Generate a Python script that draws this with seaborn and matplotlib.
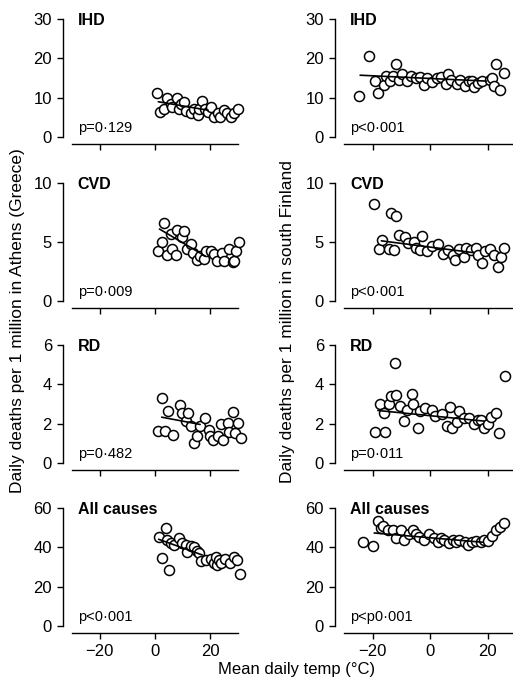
import numpy as np
import pandas as pd
import seaborn as sns
import matplotlib.pyplot as plt

# Athens (Greece) - mean daily temp (C) vs daily deaths per 1 million
ath_ihd_t = [0.6, 1.9, 3.1, 4.3, 5.6, 6.2, 8, 8.7, 9.3, 10.5, 11.1, 13, 14.2, 15.5, 15.8, 16.9, 18, 19.2, 20.4, 21.4, 22.7, 23.5, 24.8, 26, 27.6, 28.5, 30]
ath_ihd_d = [11.25, 6.4, 7.2, 10.0, 8.5, 7.5, 10.0, 7.2, 8.5, 9.0, 6.6, 6.0, 7.2, 5.5, 7.2, 9.1, 7.2, 6.4, 7.7, 5.1, 6.1, 5.1, 6.8, 6.1, 5.1, 6.0, 7.2]
ath_cvd_t = [1.2, 2.5, 3.1, 4.3, 5.7, 6.2, 7.4, 7.8, 9.6, 10.6, 11.4, 13, 13.9, 15.1, 16.4, 17.6, 18.5, 20.1, 21.3, 22.5, 24.1, 25, 26.6, 28.1, 28.7, 29.3, 30.2]
ath_cvd_d = [4.2, 5.0, 6.6, 3.9, 5.7, 4.4, 3.9, 6.0, 5.4, 5.9, 4.4, 4.8, 4.1, 3.5, 3.8, 3.6, 4.2, 4.2, 4.0, 3.4, 4.1, 3.4, 4.4, 3.3, 3.4, 4.2, 5.0]
ath_rd_t = [1.2, 2.7, 3.6, 4.8, 6.6, 9, 9.6, 11.2, 12, 12.9, 14.1, 15.1, 16.3, 18.1, 19.6, 19.9, 21.1, 22.9, 23.7, 24.7, 26.5, 26.9, 28.1, 28.9, 30.1, 31]
ath_rd_d = [1.65, 3.28, 1.65, 2.63, 1.41, 2.94, 2.55, 2.13, 2.55, 1.87, 1.02, 1.36, 1.87, 2.30, 1.70, 1.36, 1.19, 1.36, 1.96, 1.19, 2.04, 1.58, 2.60, 1.53, 2.04, 1.28]
ath_all_t = [1.6, 2.7, 3.9, 4.5, 4.9, 5.7, 6.9, 8.7, 9.7, 11.1, 11.7, 12.9, 14.1, 15.3, 15.9, 16.5, 18.3, 20.1, 21.3, 21.9, 22.4, 23, 24, 25.4, 27.2, 28.4, 29.6, 30.8]
ath_all_d = [45.1, 34.4, 49.6, 43.8, 28.4, 42.4, 41.2, 44.6, 42.4, 41.2, 37.8, 40.7, 40.4, 38.2, 37.0, 33.0, 33.6, 33.9, 31.9, 35.0, 31.0, 33.6, 31.9, 33.9, 32.2, 35.3, 33.6, 26.2]

# South Finland
fin_ihd_t = [-24.7, -21.4, -19.3, -18.3, -16.1, -15.3, -14.1, -12.8, -12, -11, -9.8, -7.9, -6.7, -4.9, -3.7, -2.2, -1.2, 0.6, 2.4, 3.7, 5.5, 6.1, 7.3, 9.2, 10.4, 12.2, 13.4, 14.4, 15.3, 16.5, 18.1, 20.8, 21.4, 22.2, 23, 24.4, 25.7]
fin_ihd_d = [10.4, 20.6, 14.2, 11.2, 13.2, 15.5, 14.2, 15.5, 18.5, 14.4, 16.0, 14.2, 15.5, 14.9, 15.3, 13.2, 15.1, 14.0, 14.9, 15.3, 13.4, 16.0, 14.4, 13.4, 14.4, 12.9, 14.2, 14.3, 12.6, 13.6, 14.2, 14.4, 14.9, 12.9, 18.5, 11.9, 16.3]
fin_cvd_t = [-19.4, -17.7, -16.7, -14.5, -13.7, -12.5, -11.9, -10.9, -8.8, -7.6, -5.8, -4.8, -3.4, -2.8, -1, 0.8, 2.7, 4.5, 6.3, 7.9, 8.7, 9.9, 11.8, 12.4, 14.2, 15.8, 16.6, 18.2, 19, 20.8, 22.1, 23.6, 24.5, 25.7]
fin_cvd_d = [8.2, 4.4, 5.2, 4.4, 7.5, 4.3, 7.2, 5.6, 5.4, 4.9, 5.0, 4.5, 4.3, 5.5, 4.2, 4.7, 4.8, 4.0, 4.3, 3.9, 3.5, 4.4, 3.7, 4.5, 4.3, 4.5, 3.9, 3.2, 4.2, 4.4, 3.9, 2.9, 3.7, 4.5]
fin_rd_t = [-19.1, -17.4, -16.2, -15.9, -14.4, -13.5, -12.4, -11.8, -10.6, -9.2, -8.2, -6.5, -5.9, -4.1, -3.5, -1.8, 0.6, 1.8, 4.1, 5.9, 6.8, 7.6, 9.2, 10, 11.8, 13.5, 15.3, 16.5, 17.6, 18.8, 20.2, 21.2, 22.9, 24.1, 25.9]
fin_rd_d = [1.56, 3.0, 2.55, 1.56, 3.0, 3.4, 5.1, 3.48, 2.89, 2.13, 2.72, 3.5, 2.98, 1.79, 2.64, 2.81, 2.72, 2.38, 2.47, 1.87, 2.85, 1.79, 2.09, 2.64, 2.30, 2.30, 1.96, 2.17, 2.21, 1.79, 1.96, 2.33, 2.55, 1.53, 4.42]
fin_all_t = [-23.3, -19.8, -18.3, -17.2, -16.6, -14.8, -13.1, -11.9, -10.2, -9, -7.3, -6.1, -5, -3.8, -2.1, -0.3, 1.4, 2.6, 3.7, 4.9, 6.4, 7.8, 8.9, 10.1, 12.2, 13.3, 14.5, 15.9, 17.6, 18.8, 20.3, 21.4, 22.8, 24.2, 25.7]
fin_all_d = [42.6, 40.9, 53.6, 49.6, 50.8, 49.0, 48.7, 44.9, 48.7, 43.5, 47.0, 49.0, 46.6, 45.2, 43.8, 46.6, 44.9, 42.6, 44.9, 43.5, 42.1, 43.8, 42.6, 43.5, 42.6, 41.4, 42.6, 43.1, 42.6, 43.8, 43.1, 45.6, 49.0, 50.4, 52.5]

# fitted lines (start/end)
ath_fit_t = [[1.2, 19.2], [1.6, 18.2], [2.4, 16.3], [1.3, 17.1]]
ath_fit_d = [[8.95, 6.8], [6.1, 3.8], [2.33, 1.96], [44.1, 36.1]]
fin_fit_t = [[-24.4, 19.6], [-17, 15], [-18.2, 18.8], [-19.5, 18.2]]
fin_fit_d = [[15.7, 14.2], [5.1, 4.1], [2.67, 2.13], [47.3, 42.6]]

causes = ['IHD', 'CVD', 'RD', 'All causes']
ath_p = ['p=0·129', 'p=0·009', 'p=0·482', 'p<0·001']
fin_p = ['p<0·001', 'p<0·001', 'p=0·011', 'p<p0·001']
ymax = [30, 10, 6, 60]
yticks = [[0, 10, 20, 30], [0, 5, 10], [0, 2, 4, 6], [0, 20, 40, 60]]

sns.set_style('ticks')
plt.rcParams['font.family'] = ['Liberation Sans', 'DejaVu Sans']
plt.rcParams['text.color'] = 'black'
plt.rcParams['axes.labelcolor'] = 'black'

fig = plt.figure(figsize=(5.13, 6.89), dpi=100)

row_bottom = [0.8012, 0.5631, 0.328, 0.0914]
row_h = 0.1713
cols = [
    (0.1404, 0.3236, (-30, 30), [ath_ihd_t, ath_cvd_t, ath_rd_t, ath_all_t],
     [ath_ihd_d, ath_cvd_d, ath_rd_d, ath_all_d], ath_fit_t, ath_fit_d, ath_p, 0.035),
    (0.6706, 0.3275, (-30, 28.5), [fin_ihd_t, fin_cvd_t, fin_rd_t, fin_all_t],
     [fin_ihd_d, fin_cvd_d, fin_rd_d, fin_all_d], fin_fit_t, fin_fit_d, fin_p, 0.036),
]

for left, width, xlim, ts, ds, ft, fd, ps, tx in cols:
    for i in range(4):
        ax = fig.add_axes([left, row_bottom[i], width, row_h])
        df = pd.DataFrame({'t': ts[i], 'd': ds[i]})
        sns.scatterplot(data=df, x='t', y='d', ax=ax, marker='o', s=52,
                        facecolor='white', edgecolor='black', linewidth=1.1,
                        clip_on=False, zorder=3)
        sns.lineplot(x=ft[i], y=fd[i], ax=ax, color='black', linewidth=1.2, zorder=4)
        ax.set_xlim(*xlim)
        ax.set_ylim(0, ymax[i])
        ax.set_yticks(yticks[i])
        ax.set_xticks([-20, 0, 20])
        ax.set_xlabel('')
        ax.set_ylabel('')
        sns.despine(ax=ax)
        ax.spines['left'].set_position(('outward', 6.5))
        ax.spines['bottom'].set_position(('outward', 5))
        for s in ['left', 'bottom']:
            ax.spines[s].set_linewidth(1.0)
            ax.spines[s].set_color('black')
        ax.tick_params(length=4.5, width=1.0, labelsize=12, colors='black')
        if i < 3:
            ax.tick_params(axis='x', labelbottom=False)
        ax.text(tx, 0.99, causes[i], transform=ax.transAxes, fontsize=11.5,
                fontweight='bold', va='center', ha='left')
        ax.text(tx, 0.075, ps[i], transform=ax.transAxes, fontsize=10.5,
                va='center', ha='left')

fig.text(0.035, 0.535, 'Daily deaths per 1 million in Athens (Greece)', rotation=90,
         ha='center', va='center', fontsize=12.5)
fig.text(0.561, 0.533, 'Daily deaths per 1 million in south Finland', rotation=90,
         ha='center', va='center', fontsize=12.5)
fig.text(0.578, 0.028, 'Mean daily temp (°C)', ha='center', va='center', fontsize=12)

plt.savefig('out.png', dpi=100)
